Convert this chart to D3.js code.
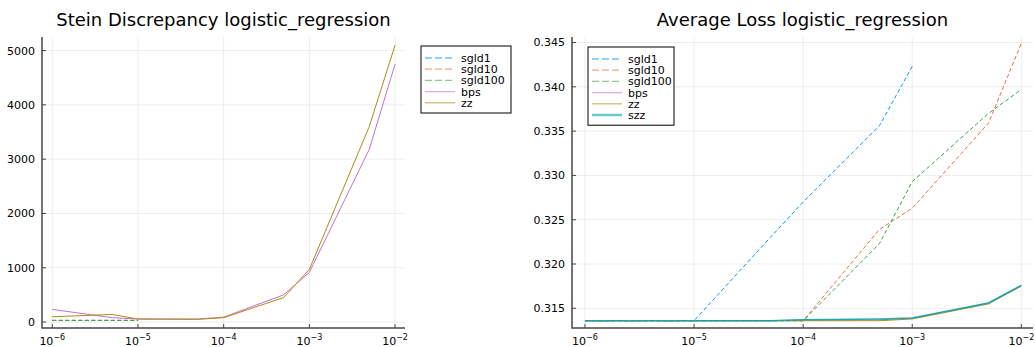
<!DOCTYPE html>
<html>
<head>
<meta charset="utf-8">
<script src="https://cdn.jsdelivr.net/npm/d3@7"></script>
<style>
  body { margin: 0; background: #fff; }
  text { font-family: "DejaVu Sans", sans-serif; fill: #000; }
</style>
</head>
<body>
<div id="container"></div>
<script>
// step sizes shared by both panels
const stepSizes = [1e-6, 5e-6, 1e-5, 5e-5, 1e-4, 5e-4, 1e-3, 5e-3, 1e-2];
const xTickValues = [1e-6, 1e-5, 1e-4, 1e-3, 1e-2];
const xTickExponents = ["−6", "−5", "−4", "−3", "−2"];

// Stein discrepancy (left)
const steinSgld1   = [30, 30, 30, null, null, null, null, null, null];
const steinSgld10  = [30, 30, 30, null, null, null, null, null, null];
const steinSgld100 = [30, 30, 30, null, null, null, null, null, null];
const steinBps     = [233, 80, 55, 55, 90, 500, 915, 3180, 4750];
const steinZz      = [97, 140, 55, 50, 80, 450, 970, 3600, 5100];
const steinYTicks  = [0, 1000, 2000, 3000, 4000, 5000];

// average loss (right)
const lossSgld1   = [0.3136, 0.3136, 0.3136, 0.3230, 0.3270, 0.3356, 0.3423, null, null];
const lossSgld10  = [0.3136, 0.3136, 0.3136, 0.3136, 0.3136, 0.3239, 0.3263, 0.3359, 0.3449];
const lossSgld100 = [0.3136, 0.3136, 0.3136, 0.3136, 0.3136, 0.3223, 0.3293, 0.3370, 0.3397];
const lossBps     = [0.3136, 0.3136, 0.3136, 0.3136, 0.3137, 0.3137, 0.3139, 0.3156, 0.3176];
const lossZz      = [0.3136, 0.3136, 0.3136, 0.3136, 0.3136, 0.3136, 0.3138, 0.3155, 0.3175];
const lossSzz     = [0.3136, 0.3136, 0.3136, 0.3136, 0.3137, 0.3138, 0.3139, 0.3156, 0.3176];
const lossYTicks  = [0.315, 0.320, 0.325, 0.330, 0.335, 0.340, 0.345];

const colors = {
  sgld1: "#009af9", sgld10: "#e26f46", sgld100: "#3da44d",
  bps: "#c271d2", zz: "#ad8b18", szz: "#00a9ad"
};

const svg = d3.select("#container").append("svg")
  .attr("width", 1035).attr("height", 347);

function drawPanel(p) {
  const g = svg.append("g");
  const x = d3.scaleLog().domain(p.xDomain).range([p.left, p.right]);
  const y = d3.scaleLinear().domain(p.yDomain).range([p.bottom, p.top]);

  // grid
  g.selectAll(".vg").data(xTickValues).enter().append("line")
    .attr("x1", d => x(d)).attr("x2", d => x(d))
    .attr("y1", p.top).attr("y2", p.bottom)
    .attr("stroke", "#000").attr("stroke-opacity", 0.1).attr("stroke-width", 0.7);
  g.selectAll(".hg").data(p.yTicks).enter().append("line")
    .attr("x1", p.left).attr("x2", p.right)
    .attr("y1", d => y(d)).attr("y2", d => y(d))
    .attr("stroke", "#000").attr("stroke-opacity", 0.1).attr("stroke-width", 0.7);

  // series
  p.series.forEach(s => {
    const line = d3.line()
      .defined((d, i) => d != null)
      .x((d, i) => x(stepSizes[i]))
      .y(d => y(d));
    g.append("path")
      .datum(s.values)
      .attr("fill", "none")
      .attr("stroke", s.color)
      .attr("stroke-width", s.width || 1)
      .attr("stroke-opacity", s.opacity || 1)
      .attr("stroke-dasharray", s.dash ? "4,2.5" : null)
      .attr("d", line);
  });

  // axes
  g.append("line").attr("x1", p.left).attr("x2", p.left)
    .attr("y1", p.top).attr("y2", p.bottom + 0.5)
    .attr("stroke", "#444").attr("stroke-width", 1.5);
  g.append("line").attr("x1", p.left).attr("x2", p.right)
    .attr("y1", p.bottom).attr("y2", p.bottom)
    .attr("stroke", "#444").attr("stroke-width", 1.5);

  // ticks (inward)
  g.selectAll(".xt").data(xTickValues).enter().append("line")
    .attr("x1", d => x(d)).attr("x2", d => x(d))
    .attr("y1", p.bottom).attr("y2", p.bottom - 4)
    .attr("stroke", "#444").attr("stroke-width", 1);
  g.selectAll(".yt").data(p.yTicks).enter().append("line")
    .attr("x1", p.left).attr("x2", p.left + 4)
    .attr("y1", d => y(d)).attr("y2", d => y(d))
    .attr("stroke", "#444").attr("stroke-width", 1);

  // tick labels
  const xl = g.selectAll(".xl").data(xTickValues).enter().append("text")
    .attr("x", d => x(d)).attr("y", p.bottom + 17)
    .attr("text-anchor", "middle").attr("font-size", 11);
  xl.append("tspan").text("10");
  xl.append("tspan").attr("dy", -5).attr("font-size", 8)
    .text((d, i) => xTickExponents[i]);

  g.selectAll(".yl").data(p.yTicks).enter().append("text")
    .attr("x", p.left - 7).attr("y", d => y(d) + 4)
    .attr("text-anchor", "end").attr("font-size", 11)
    .text(d => p.yFormat(d));

  // title
  g.append("text")
    .attr("x", (p.left + p.right) / 2).attr("y", 26)
    .attr("text-anchor", "middle").attr("font-size", 18)
    .text(p.title);

  // legend
  const lg = g.append("g").attr("transform", "translate(" + p.legendX + "," + p.legendY + ")");
  const rowH = 11.2;
  lg.append("rect")
    .attr("width", p.legendW).attr("height", p.series.length * rowH + 11)
    .attr("fill", "#fff").attr("stroke", "#000").attr("stroke-width", 1);
  p.series.forEach((s, i) => {
    const yy = 12 + i * rowH;
    lg.append("line")
      .attr("x1", 4).attr("x2", 34).attr("y1", yy).attr("y2", yy)
      .attr("stroke", s.color).attr("stroke-opacity", 0.6)
      .attr("stroke-width", s.width ? 2.5 : 1.3)
      .attr("stroke-dasharray", s.dash ? "7,3" : null);
    lg.append("text")
      .attr("x", 40).attr("y", yy + 4).attr("font-size", 11)
      .text(s.name);
  });
}

drawPanel({
  title: "Stein Discrepancy logistic_regression",
  left: 42, right: 405, top: 37, bottom: 328,
  xDomain: [Math.pow(10, -6.12), Math.pow(10, -1.884)],
  yDomain: [-110, 5250],
  yTicks: steinYTicks,
  yFormat: d => d3.format("d")(d),
  legendX: 421, legendY: 46, legendW: 90,
  series: [
    { name: "sgld1", values: steinSgld1, color: colors.sgld1, dash: true },
    { name: "sgld10", values: steinSgld10, color: colors.sgld10, dash: true },
    { name: "sgld100", values: steinSgld100, color: colors.sgld100, dash: true },
    { name: "bps", values: steinBps, color: colors.bps },
    { name: "zz", values: steinZz, color: colors.zz }
  ]
});

drawPanel({
  title: "Average Loss logistic_regression",
  left: 572, right: 1033, top: 37, bottom: 328,
  xDomain: [Math.pow(10, -6.119), Math.pow(10, -1.893)],
  yDomain: [0.31278, 0.34562],
  yTicks: lossYTicks,
  yFormat: d => d3.format(".3f")(d),
  legendX: 588, legendY: 47, legendW: 86,
  series: [
    { name: "sgld1", values: lossSgld1, color: colors.sgld1, dash: true },
    { name: "sgld10", values: lossSgld10, color: colors.sgld10, dash: true },
    { name: "sgld100", values: lossSgld100, color: colors.sgld100, dash: true },
    { name: "bps", values: lossBps, color: colors.bps },
    { name: "zz", values: lossZz, color: colors.zz },
    { name: "szz", values: lossSzz, color: colors.szz, width: 1.5, opacity: 0.85 }
  ]
});
</script>
</body>
</html>
